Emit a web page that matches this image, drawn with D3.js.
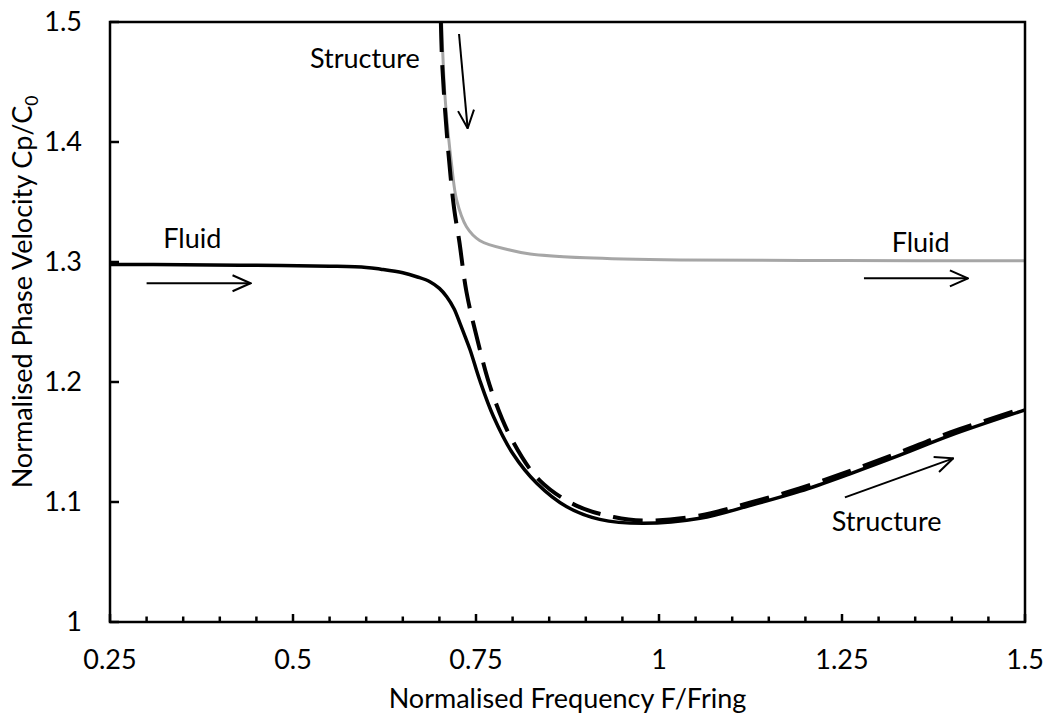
<!DOCTYPE html>
<html>
<head>
<meta charset="utf-8">
<script src="https://cdn.jsdelivr.net/npm/d3@7"></script>
<style>
  body { margin: 0; background: #fff; }
  text { font-family: Lato, "Open Sans", sans-serif; fill: #000; }
</style>
</head>
<body>
<svg id="chart" width="1051" height="717"></svg>
<script>
// curves: [frequency, phase velocity]
var solidCurve = [
  [0.25, 1.298], [0.35, 1.2978], [0.45, 1.2972], [0.55, 1.2965], [0.6, 1.2955],
  [0.62, 1.294], [0.65, 1.291], [0.67, 1.2875], [0.687, 1.2836], [0.70, 1.278],
  [0.71, 1.271], [0.72, 1.261], [0.728, 1.249], [0.735, 1.238], [0.742, 1.2267],
  [0.755, 1.2017], [0.774, 1.171], [0.80, 1.1406], [0.833, 1.1156], [0.874, 1.096],
  [0.919, 1.0855], [0.978, 1.0822], [1.056, 1.0864], [1.124, 1.097], [1.193, 1.109],
  [1.261, 1.1235], [1.329, 1.139], [1.398, 1.1555], [1.5, 1.1767]
];
var dashedCurve = [
  [0.702, 1.5], [0.704, 1.463], [0.712, 1.393], [0.720, 1.345], [0.727, 1.318],
  [0.737, 1.275], [0.752, 1.235], [0.771, 1.193], [0.799, 1.152], [0.837, 1.118],
  [0.887, 1.097], [0.938, 1.0875], [0.98, 1.0845], [1.056, 1.0888], [1.124, 1.0995],
  [1.193, 1.1115], [1.261, 1.126], [1.329, 1.1415], [1.398, 1.158], [1.5, 1.1785]
];
var greyCurve = [
  [0.703, 1.5], [0.708, 1.435], [0.717, 1.3794], [0.7235, 1.3517], [0.737, 1.3294],
  [0.755, 1.318], [0.796, 1.31], [0.824, 1.3067], [0.9, 1.3035], [1.029, 1.3017],
  [1.25, 1.3012], [1.5, 1.301]
];

var xTicks = [0.25, 0.5, 0.75, 1, 1.25, 1.5];
var xMinorTicks = d3.range(0, 26).map(i => 0.25 + i * 0.05);
var yTicks = [1, 1.1, 1.2, 1.3, 1.4, 1.5];

// annotations: [x, y] in data units
var arrows = [
  [[0.30, 1.2823], [0.442, 1.2823]],
  [[0.7268, 1.49], [0.7386, 1.4114]],
  [[1.254, 1.1039], [1.402, 1.1364]],
  [[1.280, 1.2864], [1.422, 1.2864]]
];
var labels = [
  {text: "Fluid", x: 0.3228, y: 1.3114},
  {text: "Structure", x: 0.5232, y: 1.4614},
  {text: "Fluid", x: 1.3178, y: 1.3086},
  {text: "Structure", x: 1.2359, y: 1.0761}
];

var svg = d3.select("#chart");
var plotL = 110, plotR = 1025, plotT = 22, plotB = 622;
var fs = 27;

var x = d3.scaleLinear().domain([0.25, 1.5]).range([plotL, plotR]);
var y = d3.scaleLinear().domain([1, 1.5]).range([plotB, plotT]);

var defs = svg.append("defs");
defs.append("clipPath").attr("id", "plotclip")
  .append("rect")
    .attr("x", plotL).attr("y", plotT)
    .attr("width", plotR - plotL).attr("height", plotB - plotT);

var line = d3.line()
  .x(d => x(d[0]))
  .y(d => y(d[1]))
  .curve(d3.curveCatmullRom.alpha(0.5));

var plot = svg.append("g").attr("clip-path", "url(#plotclip)");

plot.append("path")
  .datum(greyCurve)
  .attr("d", line)
  .attr("fill", "none")
  .attr("stroke", "#a6a6a6")
  .attr("stroke-width", 3);

plot.append("path")
  .datum(solidCurve)
  .attr("d", line)
  .attr("fill", "none")
  .attr("stroke", "#000")
  .attr("stroke-width", 3.5);

plot.append("path")
  .datum(dashedCurve)
  .attr("d", line)
  .attr("fill", "none")
  .attr("stroke", "#000")
  .attr("stroke-width", 4)
  .attr("stroke-dasharray", "30,13");

// frame
svg.append("rect")
  .attr("x", plotL).attr("y", plotT)
  .attr("width", plotR - plotL).attr("height", plotB - plotT)
  .attr("fill", "none")
  .attr("stroke", "#000")
  .attr("stroke-width", 2.5);

// ticks, drawn inside
svg.append("g").selectAll("line")
  .data(xMinorTicks)
  .enter().append("line")
    .attr("x1", d => x(d)).attr("x2", d => x(d))
    .attr("y1", plotB)
    .attr("y2", d => xTicks.some(t => Math.abs(t - d) < 1e-6) ? plotB - 8 : plotB - 5.5)
    .attr("stroke", "#000").attr("stroke-width", 2.5);

svg.append("g").selectAll("line")
  .data(yTicks)
  .enter().append("line")
    .attr("x1", plotL).attr("x2", plotL + 9)
    .attr("y1", d => y(d)).attr("y2", d => y(d))
    .attr("stroke", "#000").attr("stroke-width", 2.5);

svg.append("g").selectAll("text")
  .data(xTicks)
  .enter().append("text")
    .attr("x", d => x(d))
    .attr("y", 669)
    .attr("text-anchor", "middle")
    .style("font-size", fs + "px")
    .text(d => d);

svg.append("g").selectAll("text")
  .data(yTicks)
  .enter().append("text")
    .attr("x", 82)
    .attr("y", d => y(d))
    .attr("dy", "0.35em")
    .attr("text-anchor", "end")
    .style("font-size", fs + "px")
    .text(d => d);

// axis titles
svg.append("text")
  .attr("x", (plotL + plotR) / 2)
  .attr("y", 708)
  .attr("text-anchor", "middle")
  .style("font-size", fs + "px")
  .text("Normalised Frequency F/Fring");

var yTitle = svg.append("text")
  .attr("transform", "translate(32,292) rotate(-90)")
  .attr("text-anchor", "middle")
  .style("font-size", fs + "px");
yTitle.append("tspan").text("Normalised Phase Velocity Cp/C");
yTitle.append("tspan")
  .attr("dy", 6)
  .style("font-size", (fs * 0.65) + "px")
  .text("0");

// arrows
defs.append("marker")
  .attr("id", "head")
  .attr("viewBox", "0 0 20 20")
  .attr("refX", 19).attr("refY", 10)
  .attr("markerWidth", 20).attr("markerHeight", 20)
  .attr("markerUnits", "userSpaceOnUse")
  .attr("orient", "auto")
  .append("path")
    .attr("d", "M1,2 L19,10 L1,18")
    .attr("fill", "none")
    .attr("stroke", "#000")
    .attr("stroke-width", 2);

svg.append("g").selectAll("line")
  .data(arrows)
  .enter().append("line")
    .attr("x1", d => x(d[0][0])).attr("y1", d => y(d[0][1]))
    .attr("x2", d => x(d[1][0])).attr("y2", d => y(d[1][1]))
    .attr("stroke", "#000")
    .attr("stroke-width", 2)
    .attr("marker-end", "url(#head)");

svg.append("g").selectAll("text")
  .data(labels)
  .enter().append("text")
    .attr("x", d => x(d.x))
    .attr("y", d => y(d.y))
    .style("font-size", fs + "px")
    .text(d => d.text);
</script>
</body>
</html>
